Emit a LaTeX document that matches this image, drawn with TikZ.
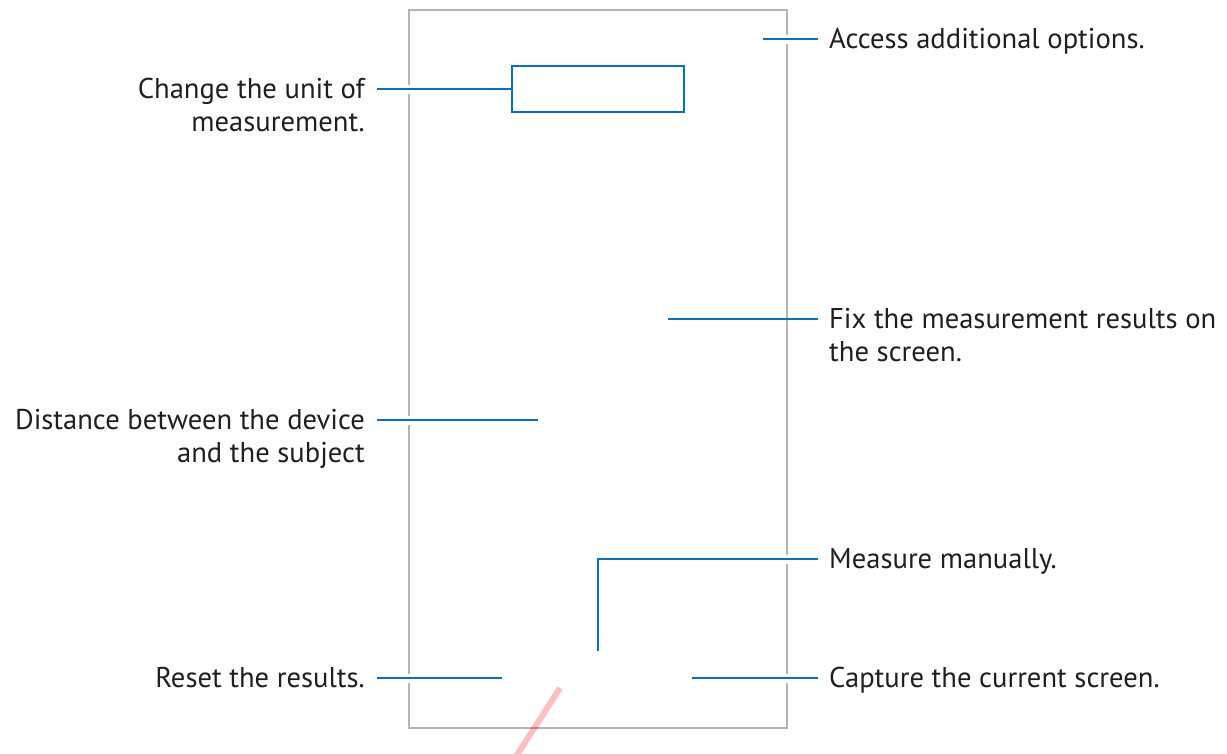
\documentclass[tikz,border=0pt]{standalone}
\usepackage{fontspec}
\setmainfont{PT Sans}
\definecolor{callblue}{HTML}{0A72B4}
\definecolor{screengray}{HTML}{B4B4B4}
\begin{document}
\begin{tikzpicture}[x=1pt,y=-1pt,
  lbl/.style={inner sep=0pt,font=\fontsize{28.6}{33}\selectfont,text=black!88},
  lblL/.style={lbl,anchor=base east},
  lblR/.style={lbl,anchor=base west},
  conn/.style={callblue,line width=2.4pt},
  halo/.style={white,line width=9pt},
  screen/.style={draw=screengray,line width=1.5pt}]
\useasboundingbox (0,0) rectangle (1227,753);
% screen outline
\draw[screen] (409,10) rectangle (787,728);
% unit box
\node[draw=callblue,line width=2.4pt,minimum width=172pt,minimum height=46pt,inner sep=0pt] (unitbox) at (598,89) {};
% coordinates
\coordinate (cL1) at (377,89);
\coordinate (cR1a) at (763,39);  \coordinate (cR1b) at (818,39);
\coordinate (cR2a) at (668,319); \coordinate (cR2b) at (818,319);
\coordinate (cL2a) at (377,420); \coordinate (cL2b) at (538,420);
\coordinate (cR3a) at (598,651); \coordinate (cR3c) at (598,559); \coordinate (cR3b) at (818,559);
\coordinate (cL3a) at (377,678); \coordinate (cL3b) at (502,678);
\coordinate (cR4a) at (692,678); \coordinate (cR4b) at (818,678);
% halos where connectors cross the screen outline
\draw[halo] (395,89) -- (423,89);
\draw[halo] (773,39) -- (801,39);
\draw[halo] (395,420) -- (423,420);
\draw[halo] (773,559) -- (801,559);
\draw[halo] (395,678) -- (423,678);
\draw[halo] (773,678) -- (801,678);
% connectors
\draw[conn] (cL1) -- (unitbox.west);
\draw[conn] (cR1a) -- (cR1b);
\draw[conn] (cR2a) -- (cR2b);
\draw[conn] (cL2a) -- (cL2b);
\draw[conn] (cR3a) -- (cR3c) -- (cR3b);
\draw[conn] (cL3a) -- (cL3b);
\draw[conn] (cR4a) -- (cR4b);
% labels
\node[lblL] (tL1a) at (365,98) {Change the unit of};
\node[lblL] (tL1b) at (365,131) {measurement.};
\node[lblR] (tR1) at (829,48) {Access additional options.};
\node[lblR] (tR2a) at (829,328) {Fix the measurement results on};
\node[lblR] (tR2b) at (829,361) {the screen.};
\node[lblL] (tL2a) at (365,429) {Distance between the device};
\node[lblL] (tL2b) at (365,462) {and the subject};
\node[lblR] (tR3) at (829,568) {Measure manually.};
\node[lblL] (tL3) at (365,687) {Reset the results.};
\node[lblR] (tR4) at (829,687) {Capture the current screen.};
% pink stroke
\begin{scope}
\clip (0,0) rectangle (1227,753);
\draw[red,opacity=0.25,line width=6pt] (560,688) -- (515,758);
\end{scope}
\end{tikzpicture}
\end{document}
